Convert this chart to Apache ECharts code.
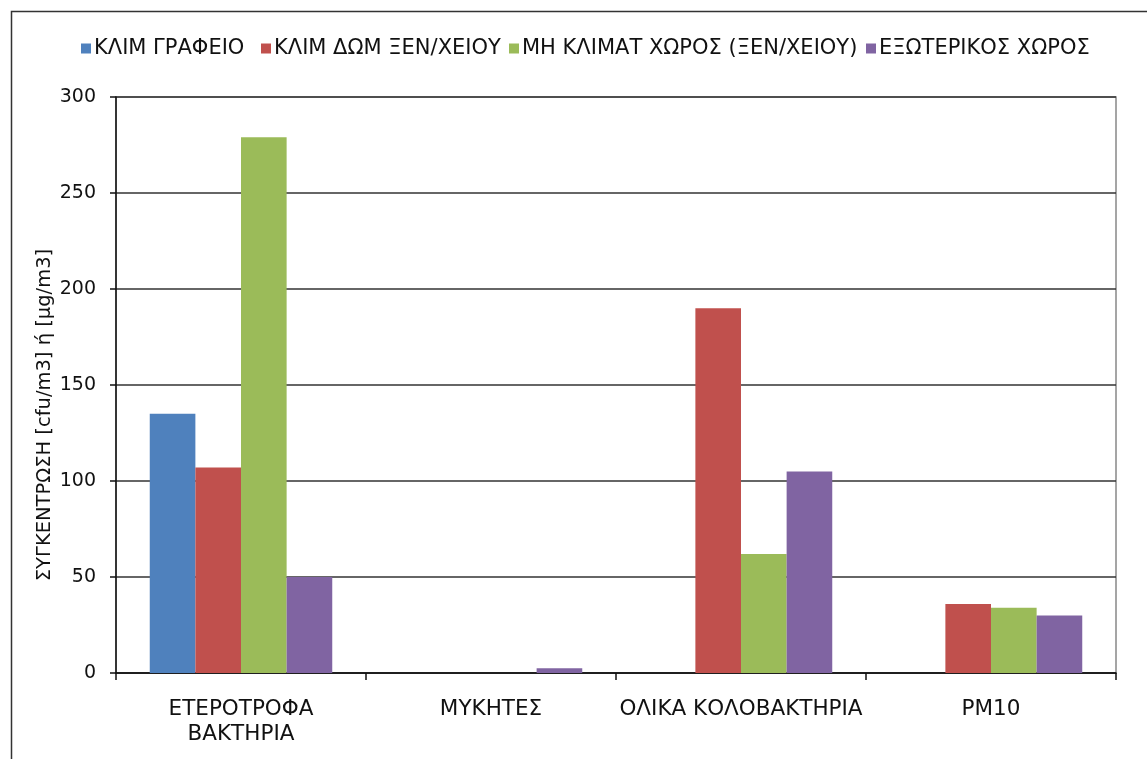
<!DOCTYPE html>
<html>
<head>
<meta charset="utf-8">
<script src="https://cdn.jsdelivr.net/npm/echarts@6/dist/echarts.min.js"></script>
<style>
html,body{margin:0;padding:0;background:#fff;}
#chart{width:1147px;height:759px;}
</style>
</head>
<body>
<div id="chart"></div>
<script>
const categories = ['ΕΤΕΡΟΤΡΟΦΑ\nΒΑΚΤΗΡΙΑ', 'ΜΥΚΗΤΕΣ', 'ΟΛΙΚΑ ΚΟΛΟΒΑΚΤΗΡΙΑ', 'PM10'];
const seriesNames = ['ΚΛΙΜ ΓΡΑΦΕΙΟ', 'ΚΛΙΜ ΔΩΜ ΞΕΝ/ΧΕΙΟΥ', 'ΜΗ ΚΛΙΜΑΤ ΧΩΡΟΣ (ΞΕΝ/ΧΕΙΟΥ)', 'ΕΞΩΤΕΡΙΚΟΣ ΧΩΡΟΣ'];
const klimGrafeio = [135, null, null, null];
const klimDom = [107, null, 190, 36];
const miKlimat = [279, null, 62, 34];
const exoterikos = [50, 2.5, 105, 30];
const seriesColors = ['#4F81BD', '#C0504D', '#9BBB59', '#8064A2'];
const yTicks = [0, 50, 100, 150, 200, 250, 300];
const yAxisName = 'ΣΥΓΚΕΝΤΡΩΣΗ [cfu/m3] ή [μg/m3]';

const values = [klimGrafeio, klimDom, miKlimat, exoterikos];
const font = '"DejaVu Sans", sans-serif';
const legendLefts = [76, 256, 504, 861];

const chart = echarts.init(document.getElementById('chart'), null, {renderer: 'canvas'});
chart.setOption({
  backgroundColor: '#ffffff',
  animation: false,
  textStyle: {fontFamily: font},
  graphic: [{
    type: 'rect',
    shape: {x: 11.5, y: 11.5, width: 1200, height: 800},
    style: {fill: 'none', stroke: '#333', lineWidth: 1.5},
    silent: true,
    z: -1
  }, {
    type: 'text',
    x: 45,
    y: 415,
    rotation: Math.PI / 2,
    style: {
      text: yAxisName,
      fontFamily: font,
      fontSize: 19.5,
      fill: '#111',
      align: 'center',
      verticalAlign: 'middle'
    },
    silent: true
  }],
  legend: seriesNames.map((n, i) => ({
    top: 33,
    left: legendLefts[i],
    itemWidth: 10,
    itemHeight: 10,
    icon: 'rect',
    textStyle: {fontFamily: font, fontSize: 21, color: '#111', padding: [0, 0, 0, -2]},
    data: [n]
  })),
  grid: {
    left: 116,
    right: 31,
    top: 97,
    bottom: 86,
    show: true,
    borderColor: '#888',
    borderWidth: 1.5,
    backgroundColor: 'transparent'
  },
  xAxis: {
    type: 'category',
    data: categories,
    axisLine: {lineStyle: {color: '#111', width: 1.5}},
    axisTick: {show: true, length: 7, inside: false, lineStyle: {color: '#111', width: 1.5}},
    axisLabel: {fontFamily: font, fontSize: 21.5, color: '#111', margin: 24, lineHeight: 25, interval: 0}
  },
  yAxis: {
    type: 'value',
    min: yTicks[0],
    max: yTicks[yTicks.length - 1],
    interval: 50,
    axisLine: {show: true, lineStyle: {color: '#111', width: 1.5}},
    axisTick: {show: true, length: 6, lineStyle: {color: '#111', width: 1.5}},
    axisLabel: {fontFamily: font, fontSize: 19, color: '#111', margin: 20},
    splitLine: {show: true, lineStyle: {color: '#333', width: 1.5}}
  },
  series: seriesNames.map((name, i) => ({
    name: name,
    type: 'bar',
    data: values[i],
    barGap: '0%',
    barCategoryGap: '27%',
    itemStyle: {color: seriesColors[i]}
  }))
});
</script>
</body>
</html>
